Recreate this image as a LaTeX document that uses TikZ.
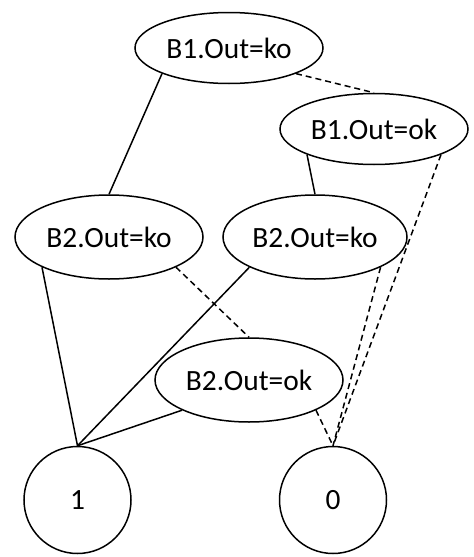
\documentclass[tikz,border=0pt]{standalone}
\usepackage{fontspec}
\setmainfont{Carlito}
\usetikzlibrary{shapes.geometric}

\begin{document}
\begin{tikzpicture}[x=0.5pt, y=-0.5pt, line width=0.75pt,
        var/.style={ellipse, draw, inner sep=0pt, minimum width=94pt, minimum height=35.5pt, font=\fontsize{14.7}{17}\selectfont},
        tall/.style={minimum height=42pt},
        leaf/.style={circle, draw, inner sep=0pt, minimum size=53.5pt, font=\fontsize{14.7}{17}\selectfont},
        hi/.style={solid},
        lo/.style={dash pattern=on 3pt off 2pt}]

        \useasboundingbox (0, 0) rectangle (473, 557);

        % variable nodes
        \node[var] (b1ko) at (229, 48) {B1.Out=ko};
        \node[var] (b1ok) at (374, 129) {B1.Out=ok};
        \node[var, tall] (b2koa) at (109, 237) {B2.Out=ko};
        \node[var, tall, minimum width=92pt] (b2kob) at (315, 237) {B2.Out=ko};
        \node[var, tall] (b2ok) at (249, 380) {B2.Out=ok};

        % terminals
        \node[leaf] (one) at (77.5, 500) {1};
        \node[leaf] (zero) at (333, 500) {0};

        \draw[hi] (b1ko.south west) -- (b2koa.north);
        \draw[lo] (b1ko.south east) -- (b1ok.north);
        \draw[hi] (b1ok.south west) -- (b2kob.north);
        \draw[lo] (b1ok.south east) -- (zero.north);

        \draw[hi] (b2koa.south west) -- (one.north);
        \draw[lo] (b2koa.south east) -- (b2ok.north);
        \draw[hi] (b2kob.south west) -- (one.north);
        \draw[lo] (b2kob.south east) -- (zero.north);

        \draw[hi] (b2ok.south west) -- (one.north);
        \draw[lo] (b2ok.south east) -- (zero.north);
    \end{tikzpicture}
\end{document}
